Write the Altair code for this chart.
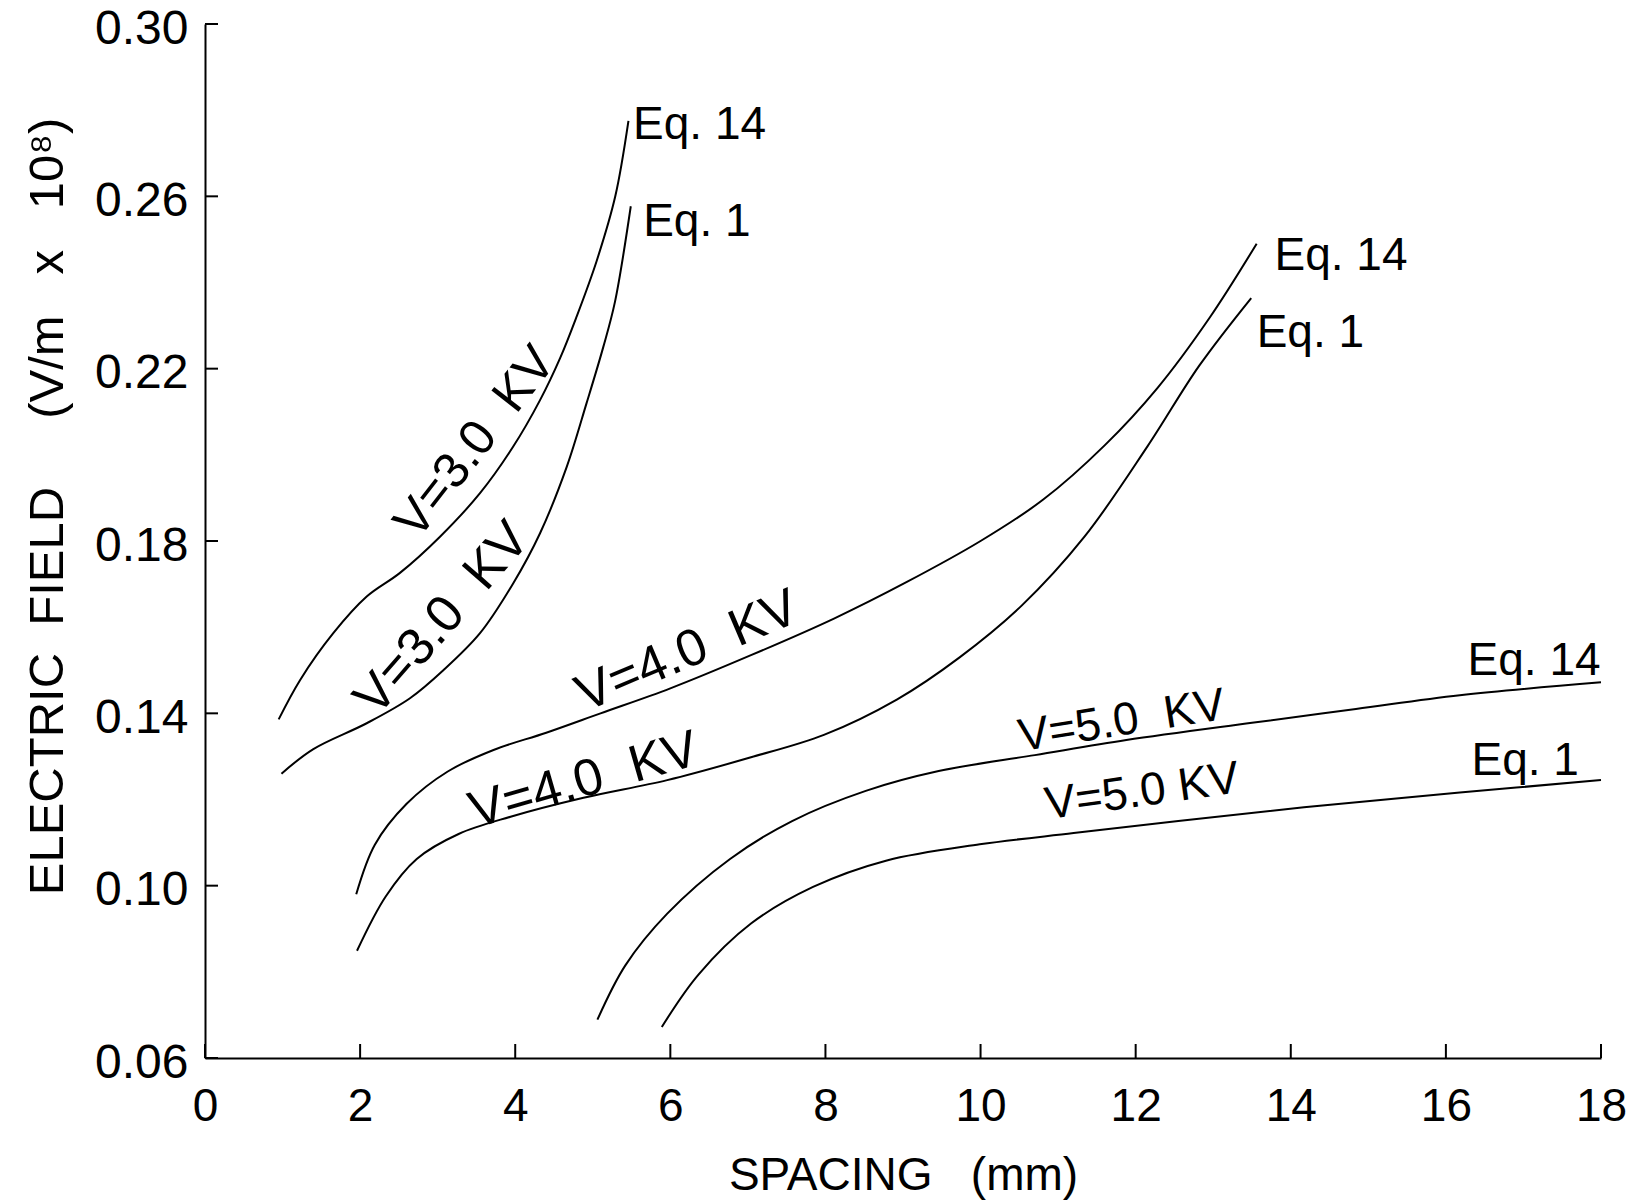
import altair as alt
import pandas as pd

FONT = "Liberation Sans"
SP = "\u00a0"

# ---- curve data (spacing in mm, electric field in V/m x 1e8) ----
a_x = [0.95, 1.225, 1.654, 2.085, 2.514, 3.03, 3.546, 3.97, 4.32, 4.58, 4.79, 5.05, 5.29, 5.46]
a_y = [0.1386, 0.1477, 0.1586, 0.1671, 0.1726, 0.181, 0.1911, 0.2018, 0.2127, 0.2225, 0.232, 0.245, 0.260, 0.2775]

b_x = [0.986, 1.397, 2.085, 2.643, 3.073, 3.546, 3.975, 4.32, 4.664, 4.92, 5.135, 5.286, 5.49]
b_y = [0.126, 0.1317, 0.1377, 0.1435, 0.150, 0.1586, 0.1702, 0.1818, 0.1972, 0.2120, 0.2250, 0.2355, 0.2577]

c_x = [1.95, 2.19, 2.6, 3.13, 3.72, 4.4, 5.1, 6.0, 7.04, 8.11, 9.05, 10.0, 10.8, 11.6, 12.28, 12.96, 13.56]
c_y = [0.098, 0.1095, 0.119, 0.1265, 0.1315, 0.1355, 0.1400, 0.1458, 0.1535, 0.1620, 0.1705, 0.180, 0.1895, 0.2022, 0.2155, 0.232, 0.249]

d_x = [1.96, 2.33, 2.73, 3.27, 3.94, 4.88, 5.96, 7.04, 7.98, 8.92, 9.73, 10.53, 11.34, 12.15, 12.82, 13.49]
d_y = [0.0849, 0.0975, 0.1062, 0.112, 0.1160, 0.1204, 0.1245, 0.1298, 0.1350, 0.1432, 0.153, 0.165, 0.181, 0.2019, 0.2207, 0.2364]

e_x = [5.06, 5.42, 5.96, 6.77, 7.57, 8.52, 9.46, 10.7, 11.88, 13.5, 14.84, 16.18, 18.0]
e_y = [0.0689, 0.0815, 0.0935, 0.1062, 0.1150, 0.1220, 0.1266, 0.1303, 0.1338, 0.1378, 0.1410, 0.1442, 0.1472]

f_x = [5.89, 6.36, 7.04, 7.84, 8.78, 9.99, 11.2, 12.55, 14.17, 16.18, 18.0]
f_y = [0.0672, 0.0793, 0.0912, 0.0997, 0.1058, 0.1096, 0.1122, 0.1150, 0.1182, 0.1216, 0.1245]

series = {
    "V3_Eq14": (a_x, a_y),
    "V3_Eq1": (b_x, b_y),
    "V4_Eq14": (c_x, c_y),
    "V4_Eq1": (d_x, d_y),
    "V5_Eq14": (e_x, e_y),
    "V5_Eq1": (f_x, f_y),
}

# ---- rotated voltage labels ----
v_text = ["V=3.0" + SP * 2 + "KV", "V=3.0" + SP * 2 + "KV", "V=4.0" + SP * 2 + "KV",
          "V=4.0" + SP * 2 + "KV", "V=5.0" + SP * 2 + "KV", "V=5.0" + SP + "KV"]
v_x = [2.74, 2.216, 4.90, 3.48, 10.52, 10.86]
v_y = [0.1800, 0.1389, 0.1403, 0.1133, 0.1312, 0.1154]
v_angle = [308, 311, 337, 344, 351, 352]
v_size = [50, 52, 52, 52, 46, 46]

# ---- equation labels ----
eq_text = ["Eq." + SP + "14", "Eq." + SP + "1", "Eq." + SP + "14", "Eq." + SP + "1",
           "Eq." + SP + "14", "Eq." + SP + "1"]
eq_x = [5.52, 5.65, 13.79, 13.56, 16.28, 16.33]
eq_y = [0.2734, 0.2509, 0.2430, 0.2251, 0.1489, 0.1257]

x_ticks = [0, 2, 4, 6, 8, 10, 12, 14, 16, 18]
y_ticks = [0.06, 0.10, 0.14, 0.18, 0.22, 0.26, 0.30]

rows = []
for name, (xs, ys) in series.items():
    for xv, yv in zip(xs, ys):
        rows.append({"series": name, "spacing": xv, "field": yv})
df = pd.DataFrame(rows)

vlab = pd.DataFrame({"text": v_text, "spacing": v_x, "field": v_y})
eqlab = pd.DataFrame({"text": eq_text, "spacing": eq_x, "field": eq_y})

W, H = 1396, 1034

xscale = alt.Scale(domain=[0, 18], nice=False, zero=False)
yscale = alt.Scale(domain=[0.06, 0.30], nice=False, zero=False)

y_title = ("ELECTRIC" + SP * 2 + "FIELD" + SP * 5 + "(V/m" + SP * 3 + "x" + SP * 3 + "10⁸)")

x_enc = alt.X("spacing:Q", scale=xscale,
              axis=alt.Axis(values=x_ticks, format="d", title="SPACING" + SP * 3 + "(mm)",
                            labelFontSize=46, labelPadding=26, titleFontSize=46,
                            titleY=117, titleBaseline="middle"))
y_enc = alt.Y("field:Q", scale=yscale,
              axis=alt.Axis(values=y_ticks, format=".2f", title=y_title,
                            labelFontSize=48, labelPadding=17, labelOffset=5,
                            titleFontSize=49,
                            titleAngle=270, titleX=-158, titleY=482,
                            titleAlign="center", titleBaseline="middle"))

lines = alt.Chart(df).mark_line(color="black", strokeWidth=2, interpolate="catmull-rom").encode(
    x=x_enc, y=y_enc, detail="series:N"
)

layers = [lines]
for i in range(len(v_text)):
    layers.append(
        alt.Chart(vlab.iloc[[i]]).mark_text(align="left", baseline="alphabetic", angle=v_angle[i],
                                            font=FONT, fontSize=v_size[i], color="black").encode(
            x=alt.X("spacing:Q", scale=xscale), y=alt.Y("field:Q", scale=yscale), text="text:N"
        )
    )

layers.append(
    alt.Chart(eqlab).mark_text(align="left", baseline="alphabetic",
                               font=FONT, fontSize=46, color="black").encode(
        x=alt.X("spacing:Q", scale=xscale), y=alt.Y("field:Q", scale=yscale), text="text:N"
    )
)

xt = alt.Chart(pd.DataFrame({"spacing": x_ticks})).mark_rule(color="black", strokeWidth=2).encode(
    x=alt.X("spacing:Q", scale=xscale), y=alt.value(H), y2=alt.value(H - 14)
)
yt = alt.Chart(pd.DataFrame({"field": y_ticks})).mark_rule(color="black", strokeWidth=2).encode(
    y=alt.Y("field:Q", scale=yscale), x=alt.value(0), x2=alt.value(13)
)
layers += [xt, yt]

chart = alt.layer(*layers).properties(
    width=W, height=H,
    autosize=alt.AutoSizeParams(type="none"),
    padding={"left": 205, "top": 24, "right": 34, "bottom": 146},
    background="white",
).configure_view(stroke=None).configure_axis(
    grid=False, ticks=False, domainColor="black", domainWidth=2,
    labelFont=FONT, labelColor="black",
    labelFlush=False, labelOverlap=False,
    titleFont=FONT, titleColor="black", titleFontWeight="normal",
)

chart.save("out.html", embed_options={"renderer": "svg", "actions": False})
